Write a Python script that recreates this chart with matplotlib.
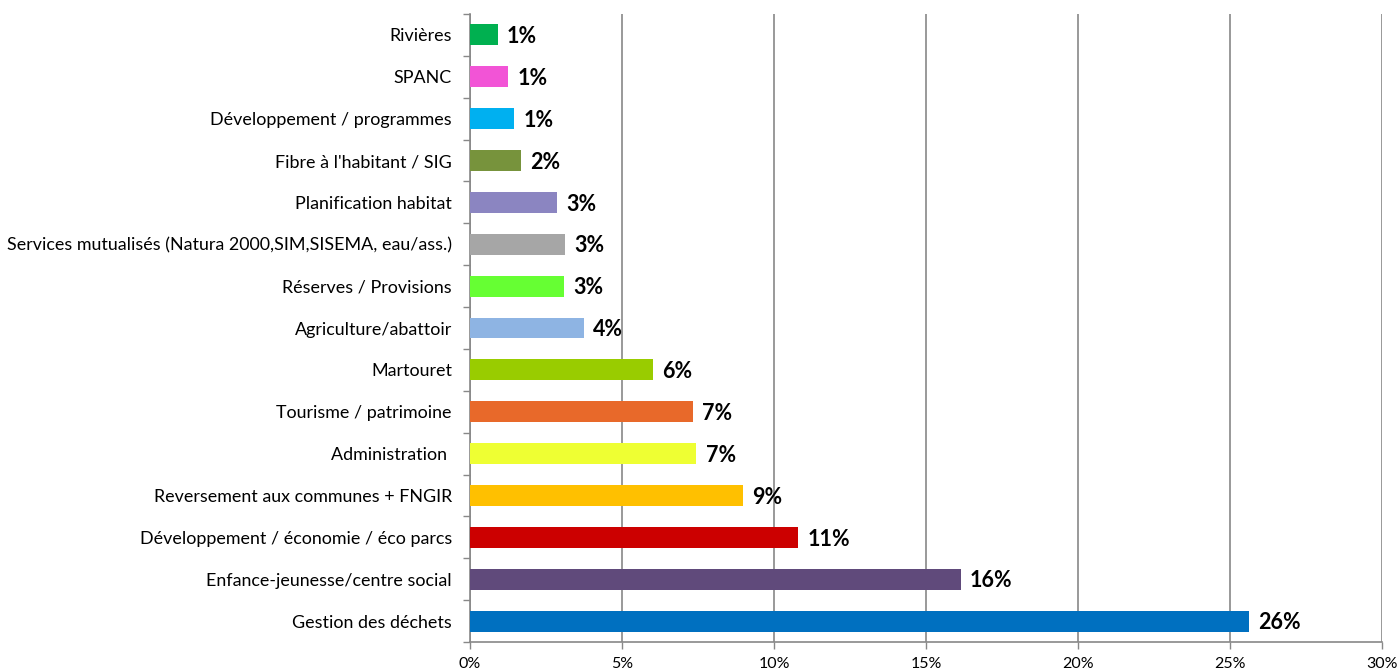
import matplotlib.pyplot as plt
import numpy as np
from matplotlib.ticker import PercentFormatter

# categories from bottom to top
categories = ['Gestion des déchets', 'Enfance-jeunesse/centre social',
              'Développement / économie / éco parcs', 'Reversement aux communes + FNGIR',
              'Administration ', 'Tourisme / patrimoine', 'Martouret',
              'Agriculture/abattoir', 'Réserves / Provisions',
              'Services mutualisés (Natura 2000,SIM,SISEMA, eau/ass.)',
              'Planification habitat', "Fibre à l'habitant / SIG",
              'Développement / programmes', 'SPANC', 'Rivières']
values = [25.63, 16.15, 10.79, 8.98, 7.45, 7.34, 6.02, 3.75, 3.09, 3.12,
          2.86, 1.68, 1.45, 1.25, 0.92]
colors = ['#0070C0', '#604A7B', '#CC0000', '#FFC000', '#EEFF33', '#E8692A',
          '#99CC00', '#8EB4E3', '#66FF33', '#A6A6A6', '#8B85C1', '#77933C',
          '#00B0F0', '#F254D6', '#00B050']

plt.rcParams['font.family'] = ['Lato', 'DejaVu Sans']

fig = plt.figure(figsize=(13.98, 6.71), dpi=100)
ax = fig.add_axes([470/1398, 1-642/671, 912/1398, 628/671])

y = np.arange(len(categories))
ax.barh(y, values, height=0.5, color=colors, zorder=3)
for yi, v in zip(y, values):
    ax.text(v + 0.3, yi - 0.04, f'{v:.0f}%', va='center', ha='left',
            fontsize=15.5, fontweight='bold', zorder=4)

ax.set_xlim(0, 30)
ax.set_ylim(-0.5, len(categories) - 0.5)
ax.set_xticks(np.arange(0, 31, 5))
ax.xaxis.set_major_formatter(PercentFormatter(decimals=0))
ax.set_yticks(y)
ax.set_yticklabels(categories)
ax.set_yticks(np.arange(-0.5, len(categories), 1), minor=True)
ax.tick_params(axis='y', which='major', length=0, labelsize=12.9, pad=13)
ax.tick_params(axis='y', which='minor', length=5, color='#888888', width=1)
ax.tick_params(axis='x', length=5, color='#888888', width=1, labelsize=11.5, pad=6)

ax.grid(axis='x', color='#888888', linewidth=1.2, zorder=0)
for s in ['top', 'right']:
    ax.spines[s].set_visible(False)
for s in ['left', 'bottom']:
    ax.spines[s].set_color('#888888')
    ax.spines[s].set_linewidth(1.2)

fig.savefig('out.png', dpi=100)
